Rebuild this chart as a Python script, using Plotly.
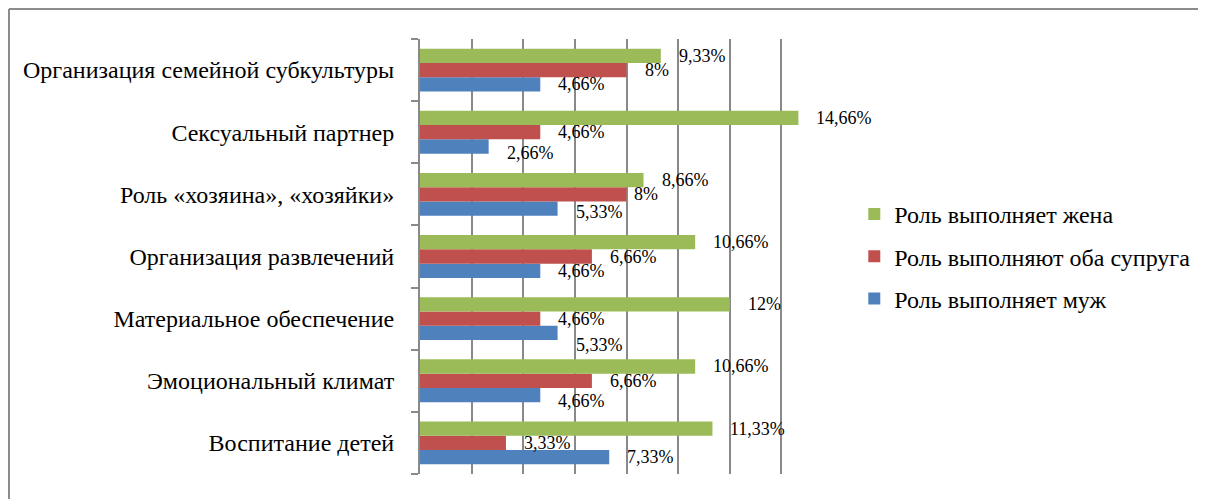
import plotly.graph_objects as go

categories = [
    "Воспитание детей",
    "Эмоциональный климат",
    "Материальное обеспечение",
    "Организация развлечений",
    "Роль «хозяина», «хозяйки»",
    "Сексуальный партнер",
    "Организация семейной субкультуры",
]
husband = [7.33, 4.66, 5.33, 4.66, 5.33, 2.66, 4.66]
both = [3.33, 6.66, 4.66, 6.66, 8.0, 4.66, 8.0]
wife = [11.33, 10.66, 12.0, 10.66, 8.66, 14.66, 9.33]

series_names = ["Роль выполняет муж", "Роль выполняют оба супруга", "Роль выполняет жена"]
series_values = [husband, both, wife]
series_colors = ["#4F81BD", "#C0504D", "#9BBB59"]
legend_ranks = [3, 2, 1]

# small per-label nudges (pixels) that mimic the original label placement
label_dx = {(1, 4): -11}
label_dy = {(0, 5): 6, (0, 4): 3, (0, 2): 12, (0, 1): 6}

SERIF = "Liberation Serif"
GRID = "#898989"

def fmt(v):
    s = ("%.2f" % v).rstrip("0").rstrip(".")
    return s.replace(".", ",") + "%"

# page has an 8px body margin; figure origin is at page (8, 8)
OFF = 8
W, H = 1206 - OFF, 499 - OFF
L, R, T, B = 420 - OFF, 1206 - 834, 39 - OFF, 499 - 474
pw, ph = W - L - R, H - T - B
GAP = 0.31
NS = len(series_names)

fig = go.Figure()
for name, vals, col, rk in zip(series_names, series_values, series_colors, legend_ranks):
    fig.add_trace(go.Bar(
        y=categories, x=vals, orientation="h", name=name,
        marker=dict(color=col, line=dict(width=0)),
        legendgroup=name, legendrank=rk,
        hovertemplate="%{y}: %{x}<extra>" + name + "</extra>",
    ))

# data labels
bw = (1 - GAP) / NS
for si, vals in enumerate(series_values):
    off = -(1 - GAP) / 2 + (si + 0.5) * bw
    for ci, v in enumerate(vals):
        fig.add_annotation(
            x=v, y=ci + off, xref="x", yref="y",
            text=fmt(v), showarrow=False,
            xanchor="left", yanchor="middle",
            xshift=16 + label_dx.get((si, ci), 0),
            yshift=-label_dy.get((si, ci), 0),
            font=dict(family=SERIF, size=18, color="#000000"),
        )

frame_x0 = (8 - OFF - L) / pw
frame_y1 = 1 + (T - (9 - OFF)) / ph
fig.add_shape(type="line", xref="paper", yref="paper",
              x0=frame_x0, x1=(W + 10 - L) / pw, y0=frame_y1, y1=frame_y1,
              line=dict(color="#8C8C8C", width=2))
fig.add_shape(type="line", xref="paper", yref="paper",
              x0=frame_x0, x1=frame_x0, y0=frame_y1, y1=-(B + 10) / ph,
              line=dict(color="#8C8C8C", width=2))

fig.update_layout(
    width=W, height=H,
    margin=dict(l=L, r=R, t=T, b=B, pad=0),
    paper_bgcolor="white", plot_bgcolor="white",
    barmode="group", bargap=GAP, bargroupgap=0,
    font=dict(family=SERIF, size=24, color="#000000"),
    showlegend=True,
    legend=dict(
        x=1.049, y=0.50, xanchor="left", yanchor="middle",
        traceorder="grouped", tracegroupgap=8,
        font=dict(family=SERIF, size=24, color="#000000"),
        bgcolor="rgba(0,0,0,0)",
    ),
    xaxis=dict(
        range=[0, 16], dtick=2, showticklabels=False,
        showgrid=True, gridcolor=GRID, gridwidth=2,
        zeroline=False, showline=False, ticks="",
        fixedrange=True,
    ),
    yaxis=dict(
        type="category", categoryorder="array", categoryarray=categories,
        range=[-0.5, len(categories) - 0.5],
        showline=True, linecolor=GRID, linewidth=2,
        ticks="outside", ticklen=7, tickcolor=GRID, tickwidth=2,
        tickson="boundaries", showgrid=False, ticklabelstandoff=19,
        tickfont=dict(family=SERIF, size=24, color="#000000"),
        fixedrange=True,
    ),
)

fig.write_html("out.html")
